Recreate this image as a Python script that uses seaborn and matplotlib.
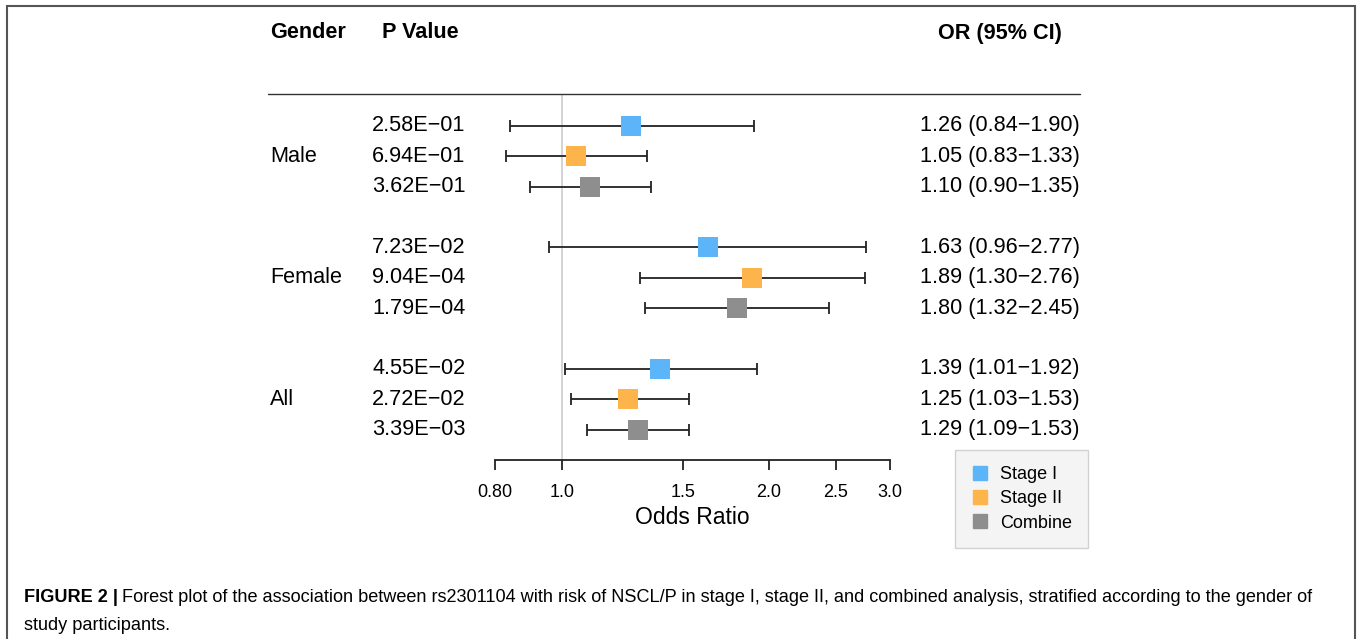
import matplotlib.pyplot as plt
import numpy as np
import pandas as pd
import seaborn as sns
from matplotlib.lines import Line2D
from matplotlib.patches import Rectangle
from matplotlib.transforms import blended_transform_factory

W, H = 1360, 639

GENDERS = ["Male", "Female", "All"]
STAGES = ["Stage I", "Stage II", "Combine"]
COLORS = {"Stage I": "#5BB5F8", "Stage II": "#FCB44B", "Combine": "#8E8E8E"}

P_VALUES = [
    "2.58E\u221201", "6.94E\u221201", "3.62E\u221201",
    "7.23E\u221202", "9.04E\u221204", "1.79E\u221204",
    "4.55E\u221202", "2.72E\u221202", "3.39E\u221203",
]
OR_VALUES = [1.26, 1.05, 1.10, 1.63, 1.89, 1.80, 1.39, 1.25, 1.29]
CI_LOW = [0.84, 0.83, 0.90, 0.96, 1.30, 1.32, 1.01, 1.03, 1.09]
CI_HIGH = [1.90, 1.33, 1.35, 2.77, 2.76, 2.45, 1.92, 1.53, 1.53]

X_TICKS = [0.8, 1.0, 1.5, 2.0, 2.5, 3.0]
X_TICK_LABELS = ["0.80", "1.0", "1.5", "2.0", "2.5", "3.0"]

FONT = ["Liberation Sans", "DejaVu Sans"]
FS = 15.6


def px(x, y):
    # pixel (from top-left) -> figure fraction
    return x / W, 1 - y / H


def main() -> None:
    sns.set_theme(style="white")
    plt.rcParams["font.family"] = FONT
    plt.rcParams["text.color"] = "black"
    plt.rcParams["xtick.color"] = "black"
    plt.rcParams["axes.labelcolor"] = "black"

    rows = []
    for gi, gender in enumerate(GENDERS):
        for si, stage in enumerate(STAGES):
            i = gi * 3 + si
            rows.append({
                "gender": gender,
                "stage": stage,
                "pos": gi * 4 + si,
                "or": OR_VALUES[i],
                "lo": CI_LOW[i],
                "hi": CI_HIGH[i],
                "p": P_VALUES[i],
            })
    df = pd.DataFrame(rows)

    fig = plt.figure(figsize=(W / 100, H / 100), dpi=100)
    x0, y1 = px(495, 94)
    x1, y0 = px(890, 460)
    ax = fig.add_axes([x0, y0, x1 - x0, y1 - y0])

    ax.axvline(1.0, color="#D0D0D0", linewidth=1.3, zorder=0)
    ax.errorbar(
        df["or"], df["pos"],
        xerr=[df["or"] - df["lo"], df["hi"] - df["or"]],
        fmt="none", ecolor="#222222", elinewidth=1.3, capsize=4.3, capthick=1.3, zorder=2,
    )
    sns.scatterplot(
        data=df, x="or", y="pos", hue="stage", palette=COLORS, marker="s",
        s=210, edgecolor="none", legend=False, ax=ax, zorder=3,
    )

    ax.set_xscale("log")
    ax.set_xlim(0.8, 3.0)
    ax.set_ylim(11.0, -1.05)
    ax.set_xticks(X_TICKS)
    ax.set_xticklabels(X_TICK_LABELS, fontsize=13)
    ax.xaxis.set_minor_locator(plt.NullLocator())
    ax.set_yticks([])
    ax.set_xlabel("Odds Ratio", fontsize=16.5, labelpad=4)
    ax.set_ylabel("")
    for side in ("top", "left", "right"):
        ax.spines[side].set_visible(False)
    ax.spines["bottom"].set_color("#222222")
    ax.spines["bottom"].set_linewidth(1.3)
    ax.tick_params(axis="x", which="major", bottom=True, direction="out", length=7,
                   width=1.3, color="#222222", pad=10)
    ax.set_facecolor("none")

    trans = blended_transform_factory(fig.transFigure, ax.transData)
    for _, r in df.iterrows():
        ax.text(372 / W, r["pos"], r["p"], transform=trans, ha="left", va="center", fontsize=FS)
        ax.text(1080 / W, r["pos"], f"{r['or']:.2f} ({r['lo']:.2f}\u2212{r['hi']:.2f})",
                transform=trans, ha="right", va="center", fontsize=FS)
    for gi, gender in enumerate(GENDERS):
        ax.text(270 / W, gi * 4 + 1, gender, transform=trans, ha="left", va="center", fontsize=FS)

    fig.text(*px(270, 33), "Gender", ha="left", va="center", fontsize=FS, weight="bold")
    fig.text(*px(382, 33), "P Value", ha="left", va="center", fontsize=FS, weight="bold")
    fig.text(*px(1062, 33), "OR (95% CI)", ha="right", va="center", fontsize=FS, weight="bold")

    lx0, ly = px(268, 94)
    lx1, _ = px(1080, 94)
    fig.add_artist(Line2D([lx0, lx1], [ly, ly], color="#333333", linewidth=1.0))

    handles = [Line2D([], [], marker="s", linestyle="none", markersize=10,
                      color=COLORS[s], label=s) for s in STAGES]
    leg = fig.legend(
        handles=handles, loc="upper left", bbox_to_anchor=px(955, 450),
        borderaxespad=0, frameon=True, fancybox=False, fontsize=13, handletextpad=0.6,
        borderpad=0.9, labelspacing=0.4, handlelength=1.0,
    )
    leg.get_frame().set_facecolor("#F2F2F2")
    leg.get_frame().set_edgecolor("#C8C8C8")
    leg.get_frame().set_linewidth(1.0)

    # caption
    bold = fig.text(*px(24, 597), "FIGURE 2 |", ha="left", va="center", fontsize=13.1, weight="bold")
    fig.canvas.draw()
    bb = bold.get_window_extent()
    fig.text((bb.x1 + 4) / W, 1 - 597 / H,
             "Forest plot of the association between rs2301104 with risk of NSCL/P in stage I, "
             "stage II, and combined analysis, stratified according to the gender of",
             ha="left", va="center", fontsize=13.1)
    fig.text(*px(24, 626), "study participants.", ha="left", va="center", fontsize=13.1)

    fig.add_artist(Rectangle(px(7, 648), (1355 - 7) / W, (648 - 6) / H, transform=fig.transFigure,
                             fill=False, edgecolor="#555555", linewidth=1.5))

    fig.savefig("out.png", dpi=100)
    plt.close(fig)


if __name__ == "__main__":
    main()
